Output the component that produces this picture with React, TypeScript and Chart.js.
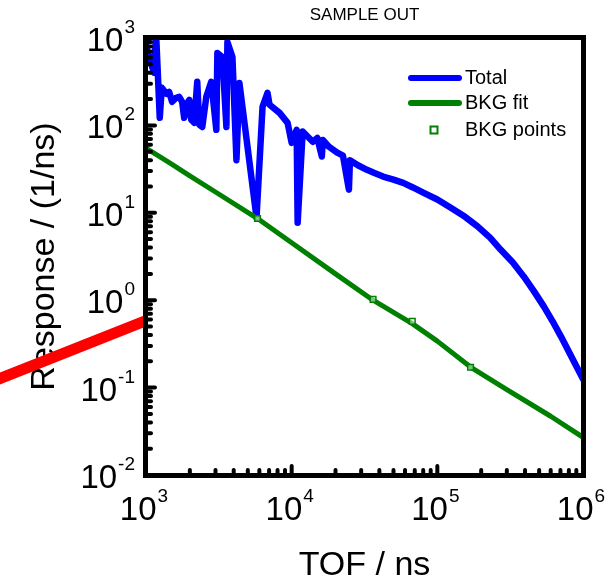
import { useEffect, useRef } from "react";
import Chart from "chart.js/auto";

const titleText = "SAMPLE OUT";
const xTitle = "TOF / ns";
const yTitle = "Response / (1/ns)";
const xExps = [3, 4, 5, 6];
const yExps = [3, 2, 1, 0, -1, -2];
const legendLabels = ["Total", "BKG fit", "BKG points"];

const totalX = [1000, 1016, 1136, 1172, 1243, 1283, 1380, 1441, 1511, 1600, 1690, 1771, 1828, 1900, 1981, 2044, 2143, 2248, 2321, 2434, 2594, 2805, 3040, 3090, 3345, 3565, 3622, 3920, 4178, 4377, 5737, 6310, 6826, 7050, 8260, 9380, 10000, 10820, 10990, 11900, 13960, 15000, 16110, 16370, 18000, 20420, 22500, 24720, 25120, 28500, 32890, 37000, 42440, 50000, 58340, 68000, 80010, 100000, 122900, 155000, 188800, 230000, 271600, 330000, 391600, 460000, 538000, 620000, 705000, 840000, 1000000];
const totalY = [830, 730, 400, 1150, 122, 269, 230, 242, 186, 205, 212, 186, 122, 175, 196, 116, 107, 315, 102, 96, 212, 315, 89, 674, 607, 96, 900, 607, 40, 306, 8.8, 163, 236, 172, 139, 107, 63, 89, 7.7, 85, 65, 72, 44, 68, 57, 49, 45, 18.4, 40, 35, 31, 28.5, 26, 24, 22, 19.5, 17, 14.2, 11.5, 9.0, 7.0, 5.2, 3.8, 2.7, 1.87, 1.27, 0.85, 0.57, 0.386, 0.22, 0.125];

const fitX = [1000, 1500, 2000, 3000, 5830, 10000, 20000, 36200, 67300, 100000, 169000, 300000, 600000, 1000000];
const fitY = [55, 36, 26.5, 17.3, 8.6, 4.55, 2.0, 1.0, 0.54, 0.34, 0.172, 0.095, 0.047, 0.027];

const bkgX = [5830, 36200, 67300, 169000];
const bkgY = [8.6, 1.02, 0.573, 0.171];

const redX = [80, 1000];
const redY = [0.11, 0.585];

const FONT = '"Liberation Sans", Arial, Helvetica, sans-serif';
const BLUE = "#0000ff";
const GREEN = "#008000";
const RED = "#ff0000";

const zip = (xs: number[], ys: number[]) => xs.map((x, i) => ({ x, y: ys[i] }));

function drawPow(ctx: CanvasRenderingContext2D, exp: string, anchorX: number, baseY: number, mode: "right" | "center") {
  ctx.font = `33px ${FONT}`;
  const w10 = ctx.measureText("10").width;
  ctx.font = `19px ${FONT}`;
  const we = ctx.measureText(exp).width;
  const total = w10 + 1 + we;
  const left = mode === "right" ? anchorX - total : anchorX - total / 2;
  ctx.textAlign = "left";
  ctx.textBaseline = "alphabetic";
  ctx.font = `33px ${FONT}`;
  ctx.fillText("10", left, baseY);
  ctx.font = `19px ${FONT}`;
  ctx.fillText(exp, left + w10 + 1, baseY - 18);
}

const decor = {
  id: "decor",
  beforeDatasetsDraw(chart: any) {
    const { ctx, chartArea: a, scales } = chart;
    const x = scales.x;
    const y = scales.y;
    ctx.save();
    ctx.fillStyle = "#000";
    ctx.font = `17px ${FONT}`;
    ctx.textAlign = "center";
    ctx.textBaseline = "middle";
    ctx.fillText(titleText, (a.left + a.right) / 2, 15);
    for (const e of yExps) {
      const py = y.getPixelForValue(Math.pow(10, e));
      drawPow(ctx, String(e), 135, py + 13, "right");
    }
    for (const e of xExps) {
      const px = x.getPixelForValue(Math.pow(10, e));
      drawPow(ctx, String(e), px - 2, 520, "center");
    }
    ctx.font = `34px ${FONT}`;
    ctx.textAlign = "center";
    ctx.textBaseline = "alphabetic";
    ctx.fillText(xTitle, (a.left + a.right) / 2, 575);
    ctx.save();
    ctx.translate(54, (a.top + a.bottom) / 2);
    ctx.rotate(-Math.PI / 2);
    ctx.fillText(yTitle, 0, 0);
    ctx.restore();
    ctx.restore();
  },
  afterDatasetsDraw(chart: any) {
    const { ctx, chartArea: a, scales } = chart;
    const x = scales.x;
    const y = scales.y;
    ctx.save();
    ctx.strokeStyle = "#000";
    ctx.lineCap = "round";
    ctx.lineWidth = 4;
    for (let e = 3; e <= 6; e++) {
      for (let k = 1; k <= 9; k++) {
        const v = k * Math.pow(10, e);
        if (v > 1e6) break;
        const px = x.getPixelForValue(v);
        const len = k === 1 ? 9 : 5;
        ctx.beginPath();
        ctx.moveTo(px, a.bottom);
        ctx.lineTo(px, a.bottom - len);
        ctx.stroke();
      }
    }
    for (let e = -2; e <= 3; e++) {
      for (let k = 1; k <= 9; k++) {
        const v = k * Math.pow(10, e);
        if (v > 1e3) break;
        const py = y.getPixelForValue(v);
        const len = k === 1 ? 9 : 5;
        ctx.beginPath();
        ctx.moveTo(a.left, py);
        ctx.lineTo(a.left + len, py);
        ctx.stroke();
      }
    }
    ctx.lineCap = "butt";
    ctx.lineWidth = 5;
    ctx.strokeRect(a.left - 0.5, a.top - 0.5, a.right - a.left + 1, a.bottom - a.top + 1);
    ctx.lineCap = "round";
    ctx.lineWidth = 6;
    ctx.strokeStyle = BLUE;
    ctx.beginPath();
    ctx.moveTo(411, 78);
    ctx.lineTo(459, 78);
    ctx.stroke();
    ctx.strokeStyle = GREEN;
    ctx.beginPath();
    ctx.moveTo(411, 103);
    ctx.lineTo(459, 103);
    ctx.stroke();
    ctx.lineWidth = 2;
    ctx.strokeRect(430.5, 126.5, 7, 7);
    ctx.fillStyle = "#000";
    ctx.font = `20px ${FONT}`;
    ctx.textAlign = "left";
    ctx.textBaseline = "middle";
    ctx.fillText(legendLabels[0], 465, 78);
    ctx.fillText(legendLabels[1], 465, 103);
    ctx.fillText(legendLabels[2], 465, 130);
    ctx.restore();
  },
};

export default function App() {
  const ref = useRef<HTMLCanvasElement>(null);
  useEffect(() => {
    if (!ref.current) return;
    const chart = new Chart(ref.current, {
      type: "scatter",
      data: {
        datasets: [
          {
            label: "red",
            data: zip(redX, redY),
            showLine: true,
            borderColor: RED,
            borderWidth: 11,
            pointRadius: 0,
            clip: false,
          } as any,
          {
            label: legendLabels[2],
            data: zip(bkgX, bkgY),
            showLine: false,
            pointStyle: "rect",
            pointRadius: 4,
            borderColor: GREEN,
            borderWidth: 1.5,
            backgroundColor: "rgba(255,255,255,0.5)",
          },
          {
            label: legendLabels[1],
            data: zip(fitX, fitY),
            showLine: true,
            borderColor: GREEN,
            borderWidth: 5,
            pointRadius: 0,
            borderJoinStyle: "round",
          },
          {
            label: legendLabels[0],
            data: zip(totalX, totalY),
            showLine: true,
            borderColor: BLUE,
            borderWidth: 6.5,
            pointRadius: 0,
            borderJoinStyle: "round",
            borderCapStyle: "round",
          },
        ],
      },
      options: {
        responsive: false,
        animation: false,
        events: [],
        layout: { padding: { left: 146, right: 33, top: 38, bottom: 107 } },
        scales: {
          x: { type: "logarithmic", min: 1000, max: 1000000, display: false },
          y: { type: "logarithmic", min: 0.01, max: 1000, display: false },
        },
        plugins: { legend: { display: false }, tooltip: { enabled: false }, title: { display: false } },
      },
      plugins: [decor],
    });
    return () => chart.destroy();
  }, []);
  return (
    <div style={{ position: "absolute", left: 0, top: 0, width: 616, height: 582, background: "#fff" }}>
      <canvas ref={ref} width={616} height={582} style={{ display: "block" }} />
    </div>
  );
}
